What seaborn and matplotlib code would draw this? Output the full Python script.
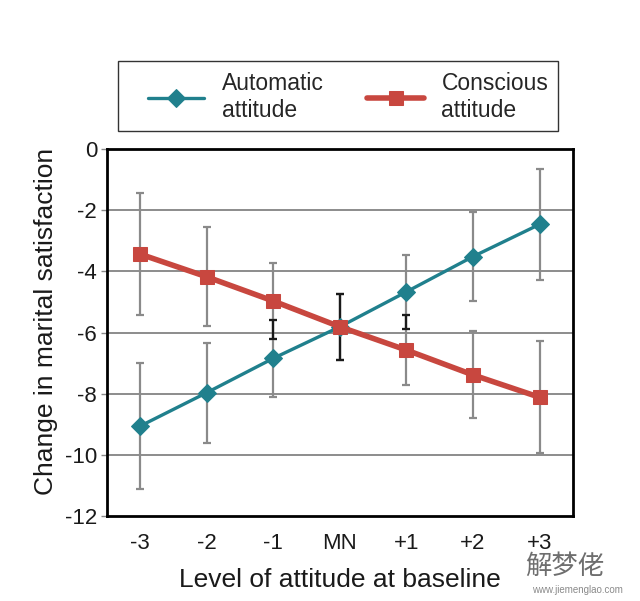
import matplotlib
matplotlib.use("Agg")
import matplotlib.pyplot as plt
import matplotlib.patches as mpatches
import seaborn as sns
import numpy as np
import pandas as pd

# ---- data ----
levels = ["-3", "-2", "-1", "MN", "+1", "+2", "+3"]
automatic_mean = [-9.05, -7.96, -6.84, -5.81, -4.67, -3.52, -2.47]
automatic_err = [2.05, 1.63, 1.25, 1.08, 1.20, 1.45, 1.82]
conscious_mean = [-3.44, -4.18, -4.97, -5.81, -6.57, -7.38, -8.11]
conscious_err = [1.98, 1.62, 1.23, 1.08, 1.14, 1.42, 1.82]
series_names = ["Automatic\nattitude", "Conscious\nattitude"]
y_ticks = [0, -2, -4, -6, -8, -10, -12]

teal = "#20808d"
red = "#c8473f"

sns.set_theme(style="white")
plt.rcParams["font.family"] = ["Liberation Sans", "DejaVu Sans"]
plt.rcParams["axes.unicode_minus"] = False

fig = plt.figure(figsize=(6.4, 6.01), dpi=100)
ax = fig.add_axes([0.167, 0.1406, 0.728, 0.612])

df_a = pd.DataFrame({"level": levels, "value": automatic_mean})
df_c = pd.DataFrame({"level": levels, "value": conscious_mean})
xpos = np.arange(len(levels))

# horizontal grid
for yv in y_ticks[1:-1]:
    ax.axhline(yv, color="#8c8c8c", lw=1.4, zorder=1)

# error bars (grey)
ax.errorbar(xpos, automatic_mean, yerr=automatic_err, fmt="none",
            ecolor="#8a8a8a", elinewidth=1.6, capsize=3.2, capthick=1.6, zorder=2)
ax.errorbar(xpos, conscious_mean, yerr=conscious_err, fmt="none",
            ecolor="#8a8a8a", elinewidth=1.6, capsize=3.2, capthick=1.6, zorder=2)

# overlapping parts of the two error bars drawn in black
a_lo = np.array(automatic_mean) - np.array(automatic_err)
a_hi = np.array(automatic_mean) + np.array(automatic_err)
c_lo = np.array(conscious_mean) - np.array(conscious_err)
c_hi = np.array(conscious_mean) + np.array(conscious_err)
ov_lo = np.maximum(a_lo, c_lo)
ov_hi = np.minimum(a_hi, c_hi)
mask = ov_hi > ov_lo
mid = (ov_lo + ov_hi) / 2
half = (ov_hi - ov_lo) / 2
ax.errorbar(xpos[mask], mid[mask], yerr=half[mask], fmt="none",
            ecolor="#1a1a1a", elinewidth=1.6, capsize=3.2, capthick=1.6, zorder=2.5)

sns.lineplot(data=df_a, x="level", y="value", ax=ax, color=teal, lw=2.4,
             marker="D", markersize=9, markeredgecolor=teal, sort=False,
             label=series_names[0], zorder=3)
sns.lineplot(data=df_c, x="level", y="value", ax=ax, color=red, lw=4.0,
             marker="s", markersize=10, markeredgecolor=red, sort=False,
             label=series_names[1], zorder=4)

ax.set_xlim(-0.5, len(levels) - 0.5)
ax.set_ylim(-12, 0)
ax.set_yticks(y_ticks)
ax.set_yticklabels([str(v) for v in y_ticks])
ax.set_xticks(xpos)
ax.set_xticklabels(levels)

for s in ax.spines.values():
    s.set_visible(True)
    s.set_color("black")
    s.set_linewidth(2.0)

ax.tick_params(axis="y", which="both", left=True, length=4, width=1,
               color="#888888", pad=3, labelsize=16, labelcolor="#1a1a1a")
ax.tick_params(axis="x", length=0, pad=12, labelsize=16, labelcolor="#1a1a1a")

ax.set_xlabel("Level of attitude at baseline", fontsize=19, color="#1a1a1a", labelpad=10)
ax.set_ylabel("Change in marital satisfaction", fontsize=19, color="#1a1a1a")
ax.yaxis.set_label_coords(-0.105, 0.529)

leg = ax.legend(loc="center left", bbox_to_anchor=(148 / 640, 1 - 97 / 601),
                bbox_transform=fig.transFigure, ncol=2,
                fontsize=16.5, frameon=False, handlelength=2.45,
                handletextpad=0.78, columnspacing=1.9, borderaxespad=0,
                borderpad=0, labelspacing=0.2)
# legend frame
fig.patches.append(mpatches.Rectangle((118 / 640, 1 - 131 / 601), 440 / 640, 70 / 601,
                                      transform=fig.transFigure, fill=False,
                                      edgecolor="#333333", lw=1.0))

# watermark
fig.text(0.883, 0.058, "解梦佬", family=["Noto Sans CJK SC", "DejaVu Sans"],
         fontsize=19, color="#6e6e6e", ha="center", va="center")
fig.text(0.9015, 0.018, "www.jiemenglao.com", fontsize=7, color="#8a8a8a",
         ha="center", va="center")

fig.savefig("out.png", dpi=100)
